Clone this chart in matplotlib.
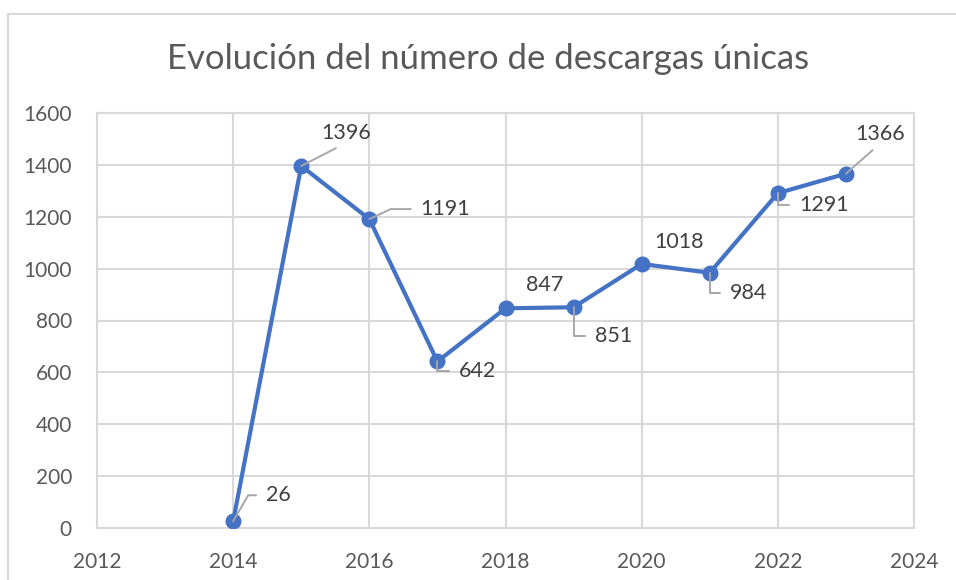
import matplotlib
matplotlib.use('Agg')
import matplotlib.pyplot as plt
from matplotlib.lines import Line2D

plt.rcParams['font.family'] = ['Lato', 'DejaVu Sans']

# data
years = [2014, 2015, 2016, 2017, 2018, 2019, 2020, 2021, 2022, 2023]
downloads = [26, 1396, 1191, 642, 847, 851, 1018, 984, 1291, 1366]
title = 'Evolución del número de descargas únicas'

# label offsets (pixels, right / up) and leader style
label_dx = [45, 45, 76, 40, 39, 40, 37, 39, 46, 34]
label_dy = [26, 33, 10, -10, 23, -29, 22, -20, -12, 40]
leader = ['elbow60', 'diag', 'elbow30', 'elbow', None, 'elbow', None, 'elbow', 'elbow', 'diag']

blue = '#4472C4'
grid = '#D9D9D9'
txt = '#595959'
lbl = '#404040'
px = 0.72  # points per pixel at dpi 100

fig = plt.figure(figsize=(9.56, 5.8), dpi=100)
ax = fig.add_axes([97 / 956, 1 - 528 / 580, (914 - 97) / 956, (528 - 113) / 580])

ax.plot(years, downloads, color=blue, lw=3, marker='o', ms=10.5, zorder=3,
        solid_joinstyle='round')

for x, y, dx, dy, kind in zip(years, downloads, label_dx, label_dy, leader):
    if kind is None:
        ax.annotate(str(y), (x, y), xytext=(dx * px, dy * px), textcoords='offset points',
                    ha='center', va='center', fontsize=15.5, color=lbl)
        continue
    if kind == 'diag':
        ap = dict(arrowstyle='-', color='#A6A6A6', lw=1.4, shrinkA=4, shrinkB=0,
                  relpos=(0.5, 0), connectionstyle='arc3')
    else:
        angb = 90
        if kind == 'elbow60':
            angb = 60
        elif kind == 'elbow30':
            angb = 25
        ap = dict(arrowstyle='-', color='#A6A6A6', lw=1.4, shrinkA=5, shrinkB=0,
                  relpos=(0, 0.5), connectionstyle='angle,angleA=0,angleB=%d,rad=0' % angb)
    ax.annotate(str(y), (x, y), xytext=(dx * px, dy * px), textcoords='offset points',
                ha='center', va='center', fontsize=15.5, color=lbl, arrowprops=ap,
                zorder=4)

ax.set_xlim(2012, 2024)
ax.set_ylim(0, 1600)
ax.set_xticks(range(2012, 2025, 2))
ax.set_yticks(range(0, 1601, 200))
ax.grid(True, color=grid, lw=1.5)
ax.set_axisbelow(True)
for s in ax.spines.values():
    s.set_color(grid)
    s.set_linewidth(1.5)
ax.tick_params(length=0, labelsize=15, labelcolor=txt)
ax.tick_params(axis='y', pad=18)
ax.tick_params(axis='x', pad=17)

fig.text(488 / 956, 1 - 59 / 580, title, ha='center', va='center', fontsize=25, color=txt)

# chart area border (top and left edges visible)
fig.add_artist(Line2D([8 / 956, 8 / 956], [0, 1 - 14 / 580], transform=fig.transFigure,
                      color=grid, lw=1.5))
fig.add_artist(Line2D([8 / 956, 1], [1 - 14 / 580, 1 - 14 / 580], transform=fig.transFigure,
                      color=grid, lw=1.5))

fig.savefig('out.png', dpi=100)
